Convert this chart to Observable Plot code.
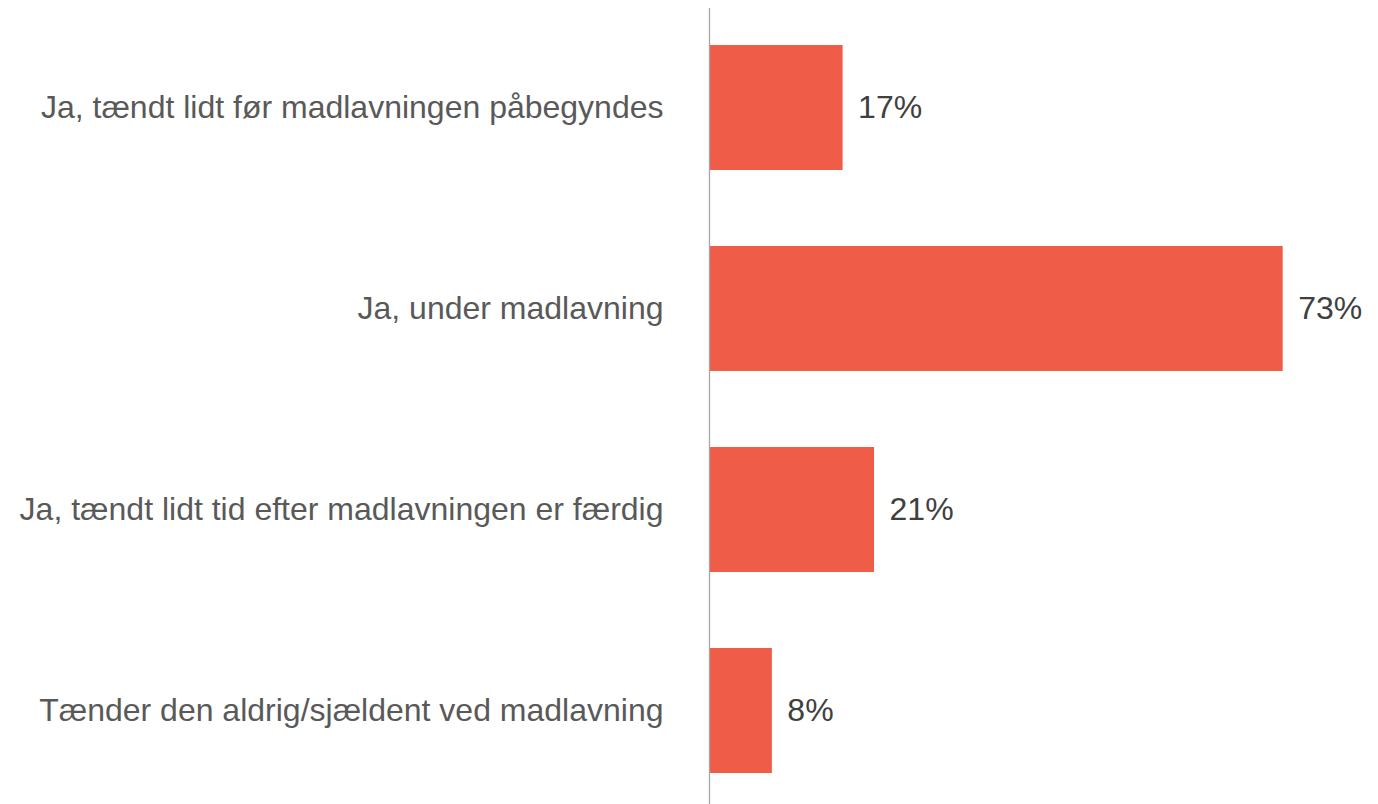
<!DOCTYPE html>
<html>
<head>
<meta charset="utf-8">
<script src="https://cdn.jsdelivr.net/npm/d3@7"></script>
<script src="https://cdn.jsdelivr.net/npm/@observablehq/plot@0.6"></script>
<style>
  html, body { margin: 0; padding: 0; background: #fff; }
  #chart svg { display: block; }
</style>
</head>
<body>
<div id="chart"></div>
<script>
const categories = [
  "Ja, tændt lidt før madlavningen påbegyndes",
  "Ja, under madlavning",
  "Ja, tændt lidt tid efter madlavningen er færdig",
  "Tænder den aldrig/sjældent ved madlavning"
];
const values = [17, 73, 21, 8];

const data = categories.map((c, i) => ({category: c, value: values[i]}));

const chart = Plot.plot({
  width: 1378,
  height: 804,
  marginLeft: 709,
  marginRight: 1,
  marginTop: 8,
  marginBottom: -6,
  style: {fontFamily: "Liberation Sans, Arial, sans-serif", background: "#fff"},
  x: {domain: [0, 85], axis: null},
  y: {domain: categories, axis: null, paddingInner: 0.378, paddingOuter: 0.184},
  marks: [
    Plot.barX(data, {x: "value", y: "category", fill: "#EF5C48", insetLeft: 1}),
    Plot.ruleX([0], {stroke: "#A6A6A6", strokeWidth: 1.3}),
    Plot.text(data, {x: 0, y: "category", text: "category", textAnchor: "end", dx: -46, fontSize: 32, fill: "#595959"}),
    Plot.text(data, {x: "value", y: "category", text: d => d.value + "%", textAnchor: "start", dx: 15, fontSize: 32, fill: "#404040"})
  ]
});
document.getElementById("chart").appendChild(chart);
</script>
</body>
</html>
